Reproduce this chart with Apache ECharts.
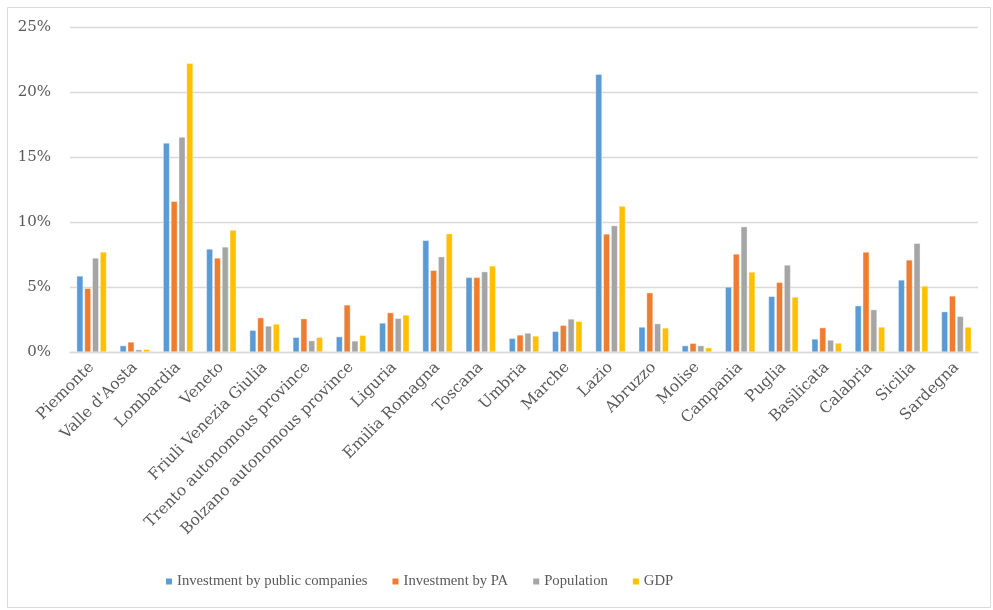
<!DOCTYPE html>
<html><head><meta charset="utf-8">
<script src="https://cdn.jsdelivr.net/npm/echarts@6/dist/echarts.min.js"></script>
<style>html,body{margin:0;padding:0;background:#fff}#c{width:993px;height:610px}</style>
</head><body><div id="c"></div>
<script>
const categories = ["Piemonte","Valle d'Aosta","Lombardia","Veneto","Friuli Venezia Giulia","Trento autonomous province","Bolzano autonomous province","Liguria","Emilia Romagna","Toscana","Umbria","Marche","Lazio","Abruzzo","Molise","Campania","Puglia","Basilicata","Calabria","Sicilia","Sardegna"];
const investPublicCompanies = [5.85,0.49,16.08,7.92,1.67,1.13,1.18,2.23,8.59,5.74,1.05,1.59,21.36,1.92,0.49,5.0,4.28,1.0,3.56,5.54,3.1];
const investPA = [4.9,0.77,11.59,7.23,2.64,2.56,3.62,3.03,6.28,5.74,1.31,2.05,9.08,4.56,0.67,7.54,5.36,1.87,7.69,7.08,4.31];
const population = [7.23,0.18,16.54,8.08,2.0,0.87,0.85,2.59,7.33,6.18,1.46,2.54,9.72,2.18,0.49,9.64,6.69,0.92,3.26,8.36,2.74];
const gdp = [7.69,0.2,22.2,9.38,2.15,1.13,1.28,2.85,9.1,6.62,1.23,2.36,11.23,1.85,0.33,6.15,4.23,0.69,1.92,5.08,1.92];
const seriesNames = ["Investment by public companies","Investment by PA","Population","GDP"];
const colors = ["#5B9BD5","#ED7D31","#A5A5A5","#FFC000"];
const yTicks = [0,5,10,15,20,25];

const font = "'DejaVu Serif', 'Liberation Serif', serif";
const legendFont = "'Liberation Serif', 'DejaVu Serif', serif";
const chart = echarts.init(document.getElementById('c'));
const mk = (name, data, color) => ({
  name, type: 'bar', data,
  itemStyle: {color, borderColor: '#ffffff', borderWidth: 0.4},
  barGap: '22%', barCategoryGap: '31%'
});
chart.setOption({
  animation: false,
  textStyle: {fontFamily: font},
  graphic: [{type: 'rect', left: 5, top: 5, shape: {width: 983, height: 600}, style: {fill: 'none', stroke: '#d9d9d9', lineWidth: 1}, silent: true}],
  grid: {left: 70, right: 15, top: 27, bottom: 258, containLabel: false},
  legend: {
    bottom: 16, left: 159, itemWidth: 8, itemHeight: 8, itemGap: 23,
    icon: 'rect',
    textStyle: {fontFamily: legendFont, fontSize: 14.7, color: '#595959', padding: [0,0,0,-1]},
    data: seriesNames
  },
  xAxis: {
    type: 'category', data: categories,
    axisLine: {lineStyle: {color: '#d9d9d9', width: 1.3}},
    axisTick: {show: false},
    axisLabel: {rotate: 45, interval: 0, fontFamily: font, fontSize: 15.5, color: '#595959', margin: 13}
  },
  yAxis: {
    type: 'value', min: yTicks[0], max: yTicks[yTicks.length-1], interval: 5,
    axisLine: {show: false}, axisTick: {show: false},
    splitLine: {lineStyle: {color: '#d9d9d9', width: 1.3}},
    axisLabel: {formatter: '{value}%', fontFamily: font, fontSize: 15, color: '#595959', margin: 19}
  },
  series: [
    mk(seriesNames[0], investPublicCompanies, colors[0]),
    mk(seriesNames[1], investPA, colors[1]),
    mk(seriesNames[2], population, colors[2]),
    mk(seriesNames[3], gdp, colors[3])
  ]
});
</script></body></html>
